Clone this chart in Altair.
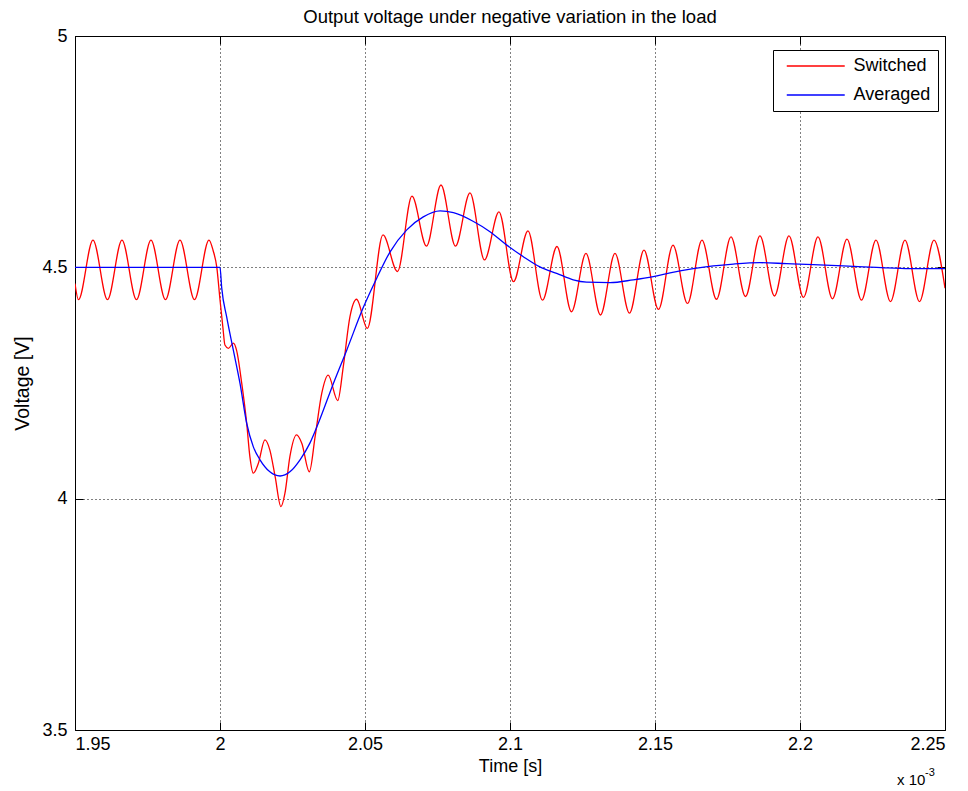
import altair as alt
import pandas as pd

FONT = "Liberation Sans, Arial, Helvetica, sans-serif"

# ---- data (time in units of 1e-3 s, voltage in V) ----
switched_t = [1.9500, 1.9512, 1.9562, 1.9612, 1.9662, 1.9712, 1.9762, 1.9812, 1.9862, 1.9912,
              1.9962, 1.9976, 1.9989, 2.0000, 2.0010, 2.0017, 2.0029, 2.0046, 2.0057, 2.0075,
              2.0092, 2.0103, 2.0115, 2.0132, 2.0155, 2.0172, 2.0190, 2.0210, 2.0224, 2.0241,
              2.0264, 2.0282, 2.0308, 2.0328, 2.0351, 2.0373, 2.0406, 2.0425, 2.0448, 2.0471,
              2.0508, 2.0562, 2.0612, 2.0662, 2.0712, 2.0762, 2.0812, 2.0862, 2.0912, 2.0962,
              2.1012, 2.1062, 2.1112, 2.1162, 2.1212, 2.1262, 2.1312, 2.1362, 2.1412, 2.1462,
              2.1512, 2.1562, 2.1612, 2.1662, 2.1712, 2.1762, 2.1812, 2.1862, 2.1912, 2.1962,
              2.2012, 2.2062, 2.2112, 2.2162, 2.2212, 2.2262, 2.2312, 2.2362, 2.2412, 2.2462,
              2.2500]
switched_v = [4.465, 4.430, 4.559, 4.430, 4.559, 4.430, 4.559, 4.430, 4.559, 4.430,
              4.559, 4.537, 4.500, 4.430, 4.370, 4.332, 4.325, 4.336, 4.321, 4.249,
              4.163, 4.091, 4.055, 4.076, 4.127, 4.105, 4.048, 3.983, 4.012, 4.091,
              4.138, 4.120, 4.058, 4.134, 4.228, 4.267, 4.212, 4.285, 4.393, 4.431,
              4.368, 4.570, 4.491, 4.654, 4.546, 4.678, 4.546, 4.661, 4.516, 4.620,
              4.469, 4.579, 4.429, 4.545, 4.404, 4.530, 4.397, 4.530, 4.401, 4.537,
              4.409, 4.548, 4.422, 4.559, 4.431, 4.566, 4.437, 4.568, 4.438, 4.568,
              4.435, 4.566, 4.432, 4.561, 4.429, 4.559, 4.426, 4.559, 4.426, 4.559,
              4.455]

averaged_t = [1.9500, 2.0000, 2.0006, 2.0023, 2.0046, 2.0069, 2.0092, 2.0115, 2.0138, 2.0172,
              2.0207, 2.0241, 2.0276, 2.0310, 2.0339, 2.0391, 2.0437, 2.0494, 2.0540, 2.0586,
              2.0644, 2.0701, 2.0759, 2.0805, 2.0874, 2.0931, 2.0989, 2.1046, 2.1103, 2.1161,
              2.1218, 2.1264, 2.1345, 2.1425, 2.1494, 2.1552, 2.1632, 2.1701, 2.1770, 2.1862,
              2.1954, 2.2046, 2.2149, 2.2264, 2.2379, 2.2500]
averaged_v = [4.500, 4.500, 4.455, 4.393, 4.321, 4.249, 4.163, 4.112, 4.084, 4.058,
              4.049, 4.058, 4.084, 4.120, 4.163, 4.249, 4.321, 4.413, 4.476, 4.533,
              4.581, 4.609, 4.622, 4.618, 4.599, 4.577, 4.548, 4.523, 4.501, 4.487,
              4.473, 4.468, 4.467, 4.473, 4.480, 4.488, 4.497, 4.503, 4.507, 4.510,
              4.508, 4.506, 4.503, 4.500, 4.497, 4.497]

series_names = ["Switched", "Averaged"]
series_colors = ["#ff0000", "#0000ff"]
x_domain = [1.95, 2.25]
y_domain = [3.5, 5.0]
x_ticks = [1.95, 2.0, 2.05, 2.1, 2.15, 2.2, 2.25]
y_ticks = [3.5, 4.0, 4.5, 5.0]
title_text = ["Output voltage under negative variation in the load"]
x_title = "Time [s]"
y_title = "Voltage [V]"
exp_base = ["x 10"]
exp_power = ["-3"]

sw = pd.DataFrame({"t": switched_t, "v": switched_v, "s": series_names[0]})
av = pd.DataFrame({"t": averaged_t, "v": averaged_v, "s": series_names[1]})

xs = alt.Scale(domain=x_domain, nice=False, zero=False)
ys = alt.Scale(domain=y_domain, nice=False, zero=False)
cs = alt.Scale(domain=series_names, range=series_colors)

axis_style = dict(labelFont=FONT, labelFontSize=18, labelColor="black",
                  titleFont=FONT, titleFontWeight="normal", titleColor="black",
                  grid=True, gridColor="black", gridDash=[1, 3], gridOpacity=1, gridWidth=1,
                  ticks=False, domain=False, format="~g")

x_axis = alt.Axis(orient="bottom", values=x_ticks, title=x_title, labelPadding=5,
                  titlePadding=4, titleFontSize=18, **axis_style)
y_axis = alt.Axis(orient="left", values=y_ticks, title=y_title, labelPadding=8,
                  titlePadding=9, titleFontSize=19.5, **axis_style)

legend = alt.Legend(title=None, orient="none", legendX=698, legendY=14,
                    symbolType="M-4,0H4", symbolSize=210, symbolStrokeWidth=1.3,
                    symbolOffset=26.75, labelOffset=28.75,
                    labelFont=FONT, labelFontSize=18, labelColor="black",
                    strokeColor="black", fillColor="white", padding=7, rowPadding=11,
                    direction="vertical")

color_enc = alt.Color("s:N", scale=cs, legend=legend)

line_sw = alt.Chart(sw).mark_line(interpolate="monotone", strokeWidth=1.3, clip=True).encode(
    x=alt.X("t:Q", scale=xs, axis=x_axis),
    y=alt.Y("v:Q", scale=ys, axis=y_axis),
    color=color_enc,
)
line_av = alt.Chart(av).mark_line(interpolate="monotone", strokeWidth=1.3, clip=True).encode(
    x=alt.X("t:Q", scale=xs, axis=x_axis),
    y=alt.Y("v:Q", scale=ys, axis=y_axis),
    color=color_enc,
)
lines = alt.layer(line_sw, line_av)

tick_style = dict(labels=False, grid=False, domain=False, ticks=True, tickSize=8,
                  tickColor="black", tickWidth=1, offset=-8, title=None)

ticks_bl = alt.Chart(av).mark_point(opacity=0).encode(
    x=alt.X("t:Q", scale=xs, axis=alt.Axis(orient="bottom", values=x_ticks, **tick_style)),
    y=alt.Y("v:Q", scale=ys, axis=alt.Axis(orient="left", values=y_ticks, **tick_style)),
)
ticks_tr = alt.Chart(av).mark_point(opacity=0).encode(
    x=alt.X("t:Q", scale=xs, axis=alt.Axis(orient="top", values=x_ticks, **tick_style)),
    y=alt.Y("v:Q", scale=ys, axis=alt.Axis(orient="right", values=y_ticks, **tick_style)),
)

title_mark = alt.Chart(pd.DataFrame({"label": title_text})).mark_text(
    align="center", baseline="alphabetic", font=FONT, fontSize=18.5, color="black"
).encode(x=alt.value(435), y=alt.value(-13), text="label:N")
exp_text = alt.Chart(pd.DataFrame({"label": exp_base})).mark_text(
    align="left", baseline="alphabetic", font=FONT, fontSize=15, color="black"
).encode(x=alt.value(822), y=alt.value(749), text="label:N")
pow_text = alt.Chart(pd.DataFrame({"label": exp_power})).mark_text(
    align="left", baseline="alphabetic", font=FONT, fontSize=11, color="black"
).encode(x=alt.value(850), y=alt.value(740), text="label:N")

chart = alt.layer(lines, ticks_bl, ticks_tr, title_mark, exp_text, pow_text).resolve_axis(
    x="independent", y="independent"
).properties(
    width=870, height=694,
    autosize=alt.AutoSizeParams(type="none"),
    padding={"left": 75, "top": 36, "right": 23, "bottom": 61},
    background="white",
).configure_view(stroke="black", strokeWidth=1)

chart.save("out.html", embed_options={"renderer": "svg", "actions": False})
